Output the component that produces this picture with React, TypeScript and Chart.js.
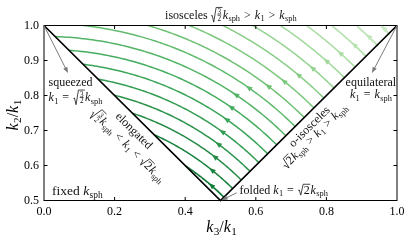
import React, { useEffect, useRef } from 'react';
import { Chart, registerables } from 'chart.js';

Chart.register(...registerables);

// ---- data ----
const k3Ticks = [0, 0.2, 0.4, 0.6, 0.8, 1.0];
const k2Ticks = [0.5, 0.6, 0.7, 0.8, 0.9, 1.0];
// k1 / k_sph along each fixed-k_sph contour (lightest first)
const k1Levels = [1.015, 1.038, 1.061, 1.084, 1.107, 1.13, 1.153, 1.176, 1.199, 1.221, 1.244, 1.267, 1.29, 1.313, 1.336, 1.359, 1.382, 1.405];
// boundary of the allowed triangle configurations
const edgeK3 = [0, 0.5, 1];
const edgeK2 = [1, 0.5, 1];

const SERIF = '"Liberation Serif", "DejaVu Serif", serif';
const GREENS = ['#f7fcf5', '#e5f5e0', '#c7e9c0', '#a1d99b', '#74c476', '#41ab5d', '#238b45', '#006d2c', '#00441b'];

function hexRgb(h: string) {
  return [1, 3, 5].map((i) => parseInt(h.slice(i, i + 2), 16));
}
function greens(t: number) {
  const p = Math.max(0, Math.min(1, t)) * 8;
  const i = Math.min(7, Math.floor(p));
  const f = p - i;
  const a = hexRgb(GREENS[i]);
  const b = hexRgb(GREENS[i + 1]);
  const c = a.map((v, k) => Math.round(v + (b[k] - v) * f));
  return `rgb(${c[0]},${c[1]},${c[2]})`;
}
const levelColor = (j: number) => greens(0.24 + (0.58 * j) / (k1Levels.length - 1));

// contour geometry: k2^2 + k3^2 = (3 k_sph^2 - k1^2) / k1^2  (in units of k1)
function contour(k1: number) {
  const R = 3 / (k1 * k1) - 1;
  const r = Math.sqrt(R);
  let x0: number, y0: number;
  if (R <= 1) {
    x0 = (1 - Math.sqrt(2 * R - 1)) / 2;
    y0 = 1 - x0;
  } else {
    x0 = Math.sqrt(R - 1);
    y0 = 1;
  }
  const ts = Math.atan2(y0, x0);
  const te = Math.PI / 4;
  return { r, ts, te };
}

function contourPoints(k1: number) {
  const { r, ts, te } = contour(k1);
  const n = 90;
  const pts: { x: number; y: number }[] = [];
  for (let i = 0; i <= n; i++) {
    const th = ts + (te - ts) * (i / n);
    pts.push({ x: r * Math.cos(th), y: r * Math.sin(th) });
  }
  return pts;
}

// ---- tiny math-text renderer ----
type Seg = { t?: string; it?: boolean; sub?: boolean; op?: string; sqrt?: Seg[]; frac?: [string, string] };
const fnt = (size: number, it?: boolean) => `${it ? 'italic ' : ''}${size}px ${SERIF}`;

function segWidth(ctx: CanvasRenderingContext2D, s: Seg, size: number): number {
  if (s.t !== undefined) {
    ctx.font = fnt(s.sub ? size * 0.7 : size, s.it);
    return ctx.measureText(s.t).width + (s.it ? size * 0.03 : 0);
  }
  if (s.op) {
    ctx.font = fnt(size);
    return ctx.measureText(s.op).width + size * 0.66;
  }
  if (s.frac) {
    ctx.font = fnt(size * 0.6);
    return Math.max(ctx.measureText(s.frac[0]).width, ctx.measureText(s.frac[1]).width) + size * 0.14;
  }
  if (s.sqrt) return size * 0.5 + s.sqrt.reduce((a, c) => a + segWidth(ctx, c, size), 0) + size * 0.06;
  return 0;
}
function segsWidth(ctx: CanvasRenderingContext2D, segs: Seg[], size: number) {
  return segs.reduce((a, s) => a + segWidth(ctx, s, size), 0);
}
function drawSegs(ctx: CanvasRenderingContext2D, segs: Seg[], x: number, y: number, size: number) {
  for (const s of segs) {
    const w = segWidth(ctx, s, size);
    if (s.t !== undefined) {
      ctx.font = fnt(s.sub ? size * 0.7 : size, s.it);
      ctx.fillText(s.t, x, y + (s.sub ? size * 0.2 : 0));
    } else if (s.op) {
      ctx.font = fnt(size);
      ctx.fillText(s.op, x + size * 0.33, y);
    } else if (s.frac) {
      const small = size * 0.6;
      ctx.font = fnt(small);
      const bar = y - size * 0.3;
      const cx = x + w / 2;
      const nw = ctx.measureText(s.frac[0]).width;
      const dw = ctx.measureText(s.frac[1]).width;
      ctx.fillText(s.frac[0], cx - nw / 2, bar - size * 0.07);
      ctx.fillText(s.frac[1], cx - dw / 2, bar + size * 0.49);
      ctx.beginPath();
      ctx.lineWidth = Math.max(0.6, size * 0.05);
      ctx.moveTo(x + size * 0.05, bar);
      ctx.lineTo(x + w - size * 0.05, bar);
      ctx.stroke();
    } else if (s.sqrt) {
      const hasFrac = s.sqrt.some((c) => c.frac);
      const top = y - size * (hasFrac ? 0.92 : 0.8);
      const bot = y + size * (hasFrac ? 0.3 : 0.1);
      const mid = bot - (bot - top) * 0.42;
      ctx.beginPath();
      ctx.lineWidth = Math.max(0.7, size * 0.065);
      ctx.moveTo(x + size * 0.03, mid);
      ctx.lineTo(x + size * 0.12, mid - size * 0.05);
      ctx.lineTo(x + size * 0.25, bot);
      ctx.lineTo(x + size * 0.45, top);
      ctx.lineTo(x + w - size * 0.02, top);
      ctx.stroke();
      drawSegs(ctx, s.sqrt, x + size * 0.5, y, size);
    }
    x += w;
  }
  return x;
}
function drawMath(
  ctx: CanvasRenderingContext2D,
  segs: Seg[],
  px: number,
  py: number,
  size: number,
  align: 'left' | 'center' | 'right',
  angle = 0,
  vcenter = false,
  color = '#111'
) {
  ctx.save();
  ctx.translate(px, py);
  ctx.rotate(angle);
  ctx.fillStyle = color;
  ctx.strokeStyle = color;
  ctx.textAlign = 'left';
  ctx.textBaseline = 'alphabetic';
  const w = segsWidth(ctx, segs, size);
  const x0 = align === 'left' ? 0 : align === 'center' ? -w / 2 : -w;
  drawSegs(ctx, segs, x0, vcenter ? size * 0.3 : 0, size);
  ctx.restore();
}

const KSPH: Seg[] = [{ t: 'k', it: true }, { t: 'sph', sub: true }];
const K1: Seg[] = [{ t: 'k', it: true }, { t: '1', sub: true }];
const SQ32: Seg = { sqrt: [{ frac: ['3', '2'] }] };
const SQ2: Seg = { sqrt: [{ t: '2' }] };

const decor = {
  id: 'decor',
  afterDatasetsDraw(chart: any) {
    const ctx: CanvasRenderingContext2D = chart.ctx;
    const xs = chart.scales.x;
    const ys = chart.scales.y;
    const X = (v: number) => xs.getPixelForValue(v);
    const Y = (v: number) => ys.getPixelForValue(v);
    const { left, right, top, bottom } = chart.chartArea;

    ctx.save();
    // frame
    ctx.strokeStyle = '#000';
    ctx.lineWidth = 1;
    ctx.strokeRect(left, top, right - left, bottom - top);
    // inward ticks
    ctx.beginPath();
    const tl = 3.5;
    k3Ticks.slice(1, -1).forEach((v) => {
      ctx.moveTo(X(v), bottom);
      ctx.lineTo(X(v), bottom - tl);
      ctx.moveTo(X(v), top);
      ctx.lineTo(X(v), top + tl);
    });
    k2Ticks.slice(1, -1).forEach((v) => {
      ctx.moveTo(left, Y(v));
      ctx.lineTo(left + tl, Y(v));
      ctx.moveTo(right, Y(v));
      ctx.lineTo(right - tl, Y(v));
    });
    ctx.stroke();

    // arrowheads on contours
    k1Levels.forEach((k1, j) => {
      const { r, ts, te } = contour(k1);
      const Lpx = r * (ts - te) * xs.width;
      const f = Math.max(0.3, Math.min(0.8, 0.77 - 6 / Lpx));
      const ta = ts - f * (ts - te);
      const px = X(r * Math.cos(ta));
      const py = Y(r * Math.sin(ta));
      const qx = X(r * Math.cos(ta + 0.01));
      const qy = Y(r * Math.sin(ta + 0.01));
      let dx = qx - px;
      let dy = qy - py;
      const d = Math.hypot(dx, dy) || 1;
      dx /= d;
      dy /= d;
      const hl = 6.5;
      const hw = 2.6;
      const tx = px + dx * hl * 0.5;
      const ty = py + dy * hl * 0.5;
      const bx = px - dx * hl * 0.5;
      const by = py - dy * hl * 0.5;
      ctx.fillStyle = levelColor(j);
      ctx.beginPath();
      ctx.moveTo(tx, ty);
      ctx.lineTo(bx - dy * hw, by + dx * hw);
      ctx.lineTo(bx + dy * hw, by - dx * hw);
      ctx.closePath();
      ctx.fill();
    });

    // annotation arrows (grey)
    const arrow = (x1: number, y1: number, x2: number, y2: number) => {
      const ax = X(x1), ay = Y(y1), bx = X(x2), by = Y(y2);
      let dx = bx - ax, dy = by - ay;
      const d = Math.hypot(dx, dy);
      dx /= d;
      dy /= d;
      ctx.strokeStyle = '#7a7a7a';
      ctx.fillStyle = '#7a7a7a';
      ctx.lineWidth = 1;
      ctx.beginPath();
      ctx.moveTo(ax, ay);
      ctx.lineTo(bx - dx * 4, by - dy * 4);
      ctx.stroke();
      ctx.beginPath();
      ctx.moveTo(bx, by);
      ctx.lineTo(bx - dx * 6 - dy * 2.3, by - dy * 6 + dx * 2.3);
      ctx.lineTo(bx - dx * 6 + dy * 2.3, by - dy * 6 - dx * 2.3);
      ctx.closePath();
      ctx.fill();
    };
    arrow(0, 1, 0.068, 0.864);
    arrow(1, 1, 0.929, 0.864);
    arrow(0.546, 0.522, 0.503, 0.501);

    const angL = Math.atan2(Y(0.5) - Y(1), X(0.5) - X(0));
    const angR = Math.atan2(Y(1) - Y(0.5), X(1) - X(0.5));

    // texts
    drawMath(ctx, [{ t: 'isosceles ' }, SQ32, ...KSPH, { op: '>' }, ...K1, { op: '>' }, ...KSPH], X(0.343), Y(1.02), 12, 'left');
    drawMath(ctx, [{ t: 'squeezed' }], X(0.0127), Y(0.827), 12, 'left');
    drawMath(ctx, [...K1, { op: '=' }, SQ32, ...KSPH], X(0.0127), Y(0.784), 12, 'left');
    drawMath(ctx, [{ t: 'equilateral' }], X(0.926), Y(0.827), 12, 'center');
    drawMath(ctx, [...K1, { op: '=' }, ...KSPH], X(0.926), Y(0.792), 12, 'center');
    drawMath(ctx, [{ t: 'folded ' }, ...K1, { op: '=' }, SQ2, ...KSPH], X(0.554), Y(0.519), 12, 'left');
    drawMath(ctx, [{ t: 'fixed ' }, ...KSPH], X(0.0227), Y(0.516), 13.5, 'left');
    drawMath(ctx, [{ t: 'elongated' }], X(0.255), Y(0.699), 12, 'center', angL, true);
    drawMath(ctx, [SQ32, ...KSPH, { op: '<' }, ...K1, { op: '<' }, SQ2, ...KSPH], X(0.238), Y(0.656), 12, 'center', angL, true);
    drawMath(ctx, [{ t: 'o-isosceles' }], X(0.752), Y(0.711), 12, 'center', angR, true);
    drawMath(ctx, [SQ2, ...KSPH, { op: '>' }, ...K1, { op: '>' }, ...KSPH], X(0.766), Y(0.684), 12, 'center', angR, true);

    // axis titles
    drawMath(ctx, [{ t: 'k', it: true }, { t: '3', sub: true }, { t: '/' }, { t: 'k', it: true }, { t: '1', sub: true }], X(0.503), Y(0.4114), 16, 'center', 0, false, '#000');
    drawMath(ctx, [{ t: 'k', it: true }, { t: '2', sub: true }, { t: '/' }, { t: 'k', it: true }, { t: '1', sub: true }], X(-0.075), Y(0.744), 16, 'center', -Math.PI / 2, false, '#000');
    ctx.restore();
  },
};

export default function App() {
  const ref = useRef<HTMLCanvasElement>(null);
  useEffect(() => {
    document.body.style.margin = '0';
    const canvas = ref.current!;
    const datasets: any[] = [
      {
        data: edgeK3.map((x, i) => ({ x, y: edgeK2[i] })),
        showLine: true,
        borderColor: '#000',
        borderWidth: 1.7,
        pointRadius: 0,
        order: 0,
        clip: false,
      },
      ...k1Levels.map((k1, j) => ({
        data: contourPoints(k1),
        showLine: true,
        borderColor: levelColor(j),
        borderWidth: 1.5,
        pointRadius: 0,
        order: 1,
      })),
    ];
    const chart = new Chart(canvas, {
      type: 'scatter',
      data: { datasets },
      options: {
        animation: false,
        responsive: false,
        devicePixelRatio: 1,
        events: [],
        layout: { padding: { top: 25.5, right: 14, left: 0, bottom: 0 } },
        plugins: { legend: { display: false }, tooltip: { enabled: false } },
        scales: {
          x: {
            type: 'linear',
            min: 0,
            max: 1,
            afterFit: (s: any) => {
              s.height = 42.5;
            },
            afterBuildTicks: (s: any) => {
              s.ticks = k3Ticks.map((v) => ({ value: v }));
            },
            grid: { display: false, drawTicks: false },
            border: { display: false },
            ticks: {
              padding: 4,
              color: '#000',
              maxRotation: 0,
              font: { family: SERIF, size: 12 },
              callback: (v: any) => Number(v).toFixed(1),
            },
          },
          y: {
            type: 'linear',
            min: 0.5,
            max: 1,
            afterFit: (s: any) => {
              s.width = 44;
            },
            afterBuildTicks: (s: any) => {
              s.ticks = k2Ticks.map((v) => ({ value: v }));
            },
            grid: { display: false, drawTicks: false },
            border: { display: false },
            ticks: {
              padding: 5,
              color: '#000',
              font: { family: SERIF, size: 12 },
              callback: (v: any) => Number(v).toFixed(1),
            },
          },
        },
      },
      plugins: [decor],
    } as any);
    return () => chart.destroy();
  }, []);
  return (
    <div style={{ width: 411, height: 243 }}>
      <canvas ref={ref} width={411} height={243} style={{ display: 'block', width: 411, height: 243 }} />
    </div>
  );
}
